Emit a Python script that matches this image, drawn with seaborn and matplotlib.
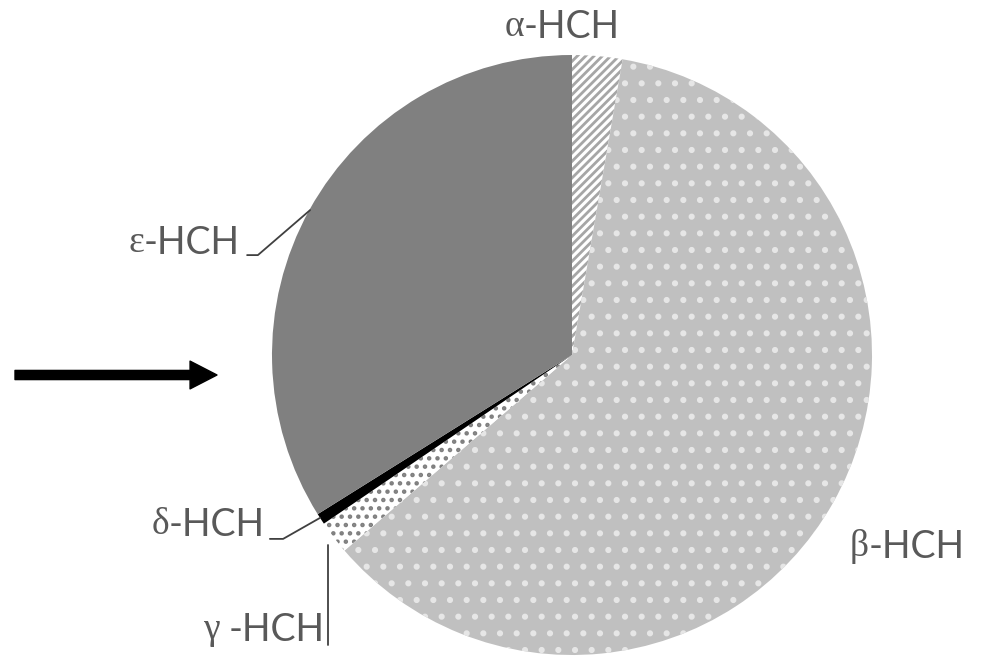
import matplotlib
matplotlib.use('Agg')
import matplotlib.pyplot as plt
import seaborn as sns

sns.set_style('white')
plt.rcParams['font.family'] = ['Lato', 'Liberation Serif']
plt.rcParams['hatch.linewidth'] = 2.0

# data (percent of total HCH), clockwise from top
greek = ['α', 'β', 'γ ', 'δ', 'ε']
suffix = '-HCH'
shares = [2.7, 61.0, 1.8, 0.6, 33.9]
face_colors = ['#ffffff', '#c0c0c0', '#ffffff', '#000000', '#808080']
hatch_colors = ['#a6a6a6', '#e6e6e6', '#7f7f7f', '#000000', '#808080']
hatches = ['////', '.', '..', '', '']

fig = plt.figure(figsize=(9.82, 6.57), dpi=100)
ax = fig.add_axes([272 / 982, 2 / 657, 600 / 982, 600 / 657])

wedges, _ = ax.pie(shares, startangle=90, counterclock=False, radius=1,
                   colors=face_colors, wedgeprops=dict(linewidth=0))
for w, h, hc in zip(wedges, hatches, hatch_colors):
    w.set_hatch(h)
    w.set_edgecolor(hc)
    w.set_linewidth(0)

ax.set_xlim(-1, 1)
ax.set_ylim(-1, 1)
ax.set_aspect('equal')
ax.axis('off')

# label = serif greek letter + sans "-HCH"
txt = dict(fontsize=27, color='#595959', va='center', clip_on=False)
label_pos = [(0.16, 1.093), (1.31, -0.64), (-0.823, -0.917),
             (-1.023, -0.567), (-1.107, 0.373)]
for g, (x, y) in zip(greek, label_pos):
    t = ax.text(x, y, suffix, ha='right', **txt)
    ax.annotate(g, xy=(0, 0.5), xycoords=t, ha='right', va='center',
                fontsize=27, color='#595959', family='Liberation Serif')

# leader lines
line = dict(color='#404040', lw=1.3, clip_on=False)
ax.plot([-1.083, -1.047, -0.873], [0.333, 0.333, 0.483], **line)
ax.plot([-1.007, -0.963, -0.84], [-0.613, -0.613, -0.543], **line)
ax.plot([-0.813, -0.813], [-0.967, -0.633], **line)

# arrow on the left
ax.annotate('', xy=(217 / 982, 1 - 375 / 657), xytext=(15 / 982, 1 - 375 / 657),
            xycoords='figure fraction', textcoords='figure fraction',
            arrowprops=dict(arrowstyle='simple,head_length=0.97,head_width=1.0,tail_width=0.33',
                            mutation_scale=20, color='black', shrinkA=0, shrinkB=0))

fig.savefig('out.png', dpi=100)
